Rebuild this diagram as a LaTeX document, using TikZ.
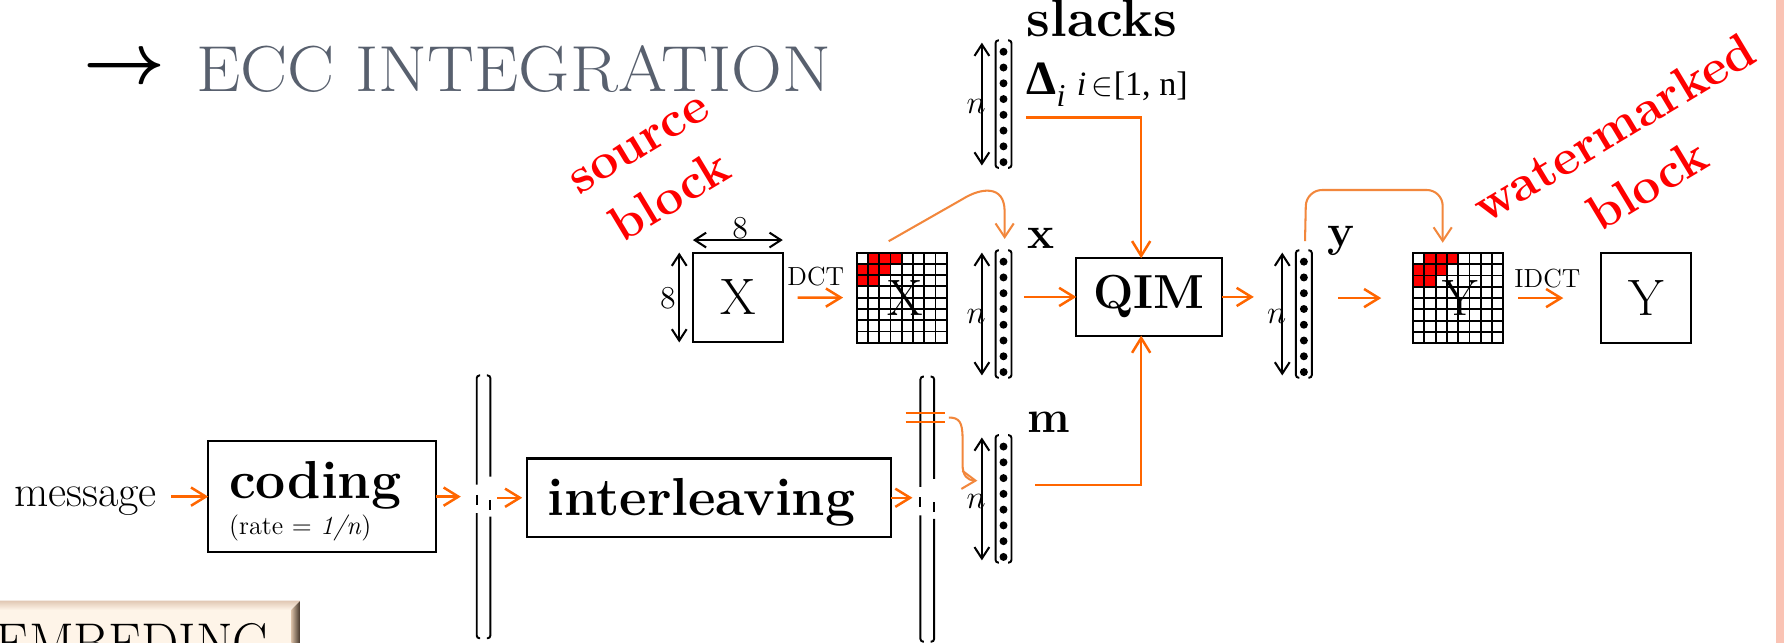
\documentclass[tikz,border=0pt]{standalone}
\usepackage{amsmath,amssymb}
\usepackage{fontspec}
\newfontfamily\tnrfont{Liberation Serif}
\usetikzlibrary{arrows.meta,calc}
\definecolor{oarr}{RGB}{255,102,0}
\definecolor{ocurve}{RGB}{242,135,60}
\definecolor{titlegray}{RGB}{88,96,110}
\definecolor{pinkstrip}{RGB}{250,195,180}
\definecolor{btncream}{RGB}{254,244,232}
\tikzset{
  oarrow/.style={draw=oarr, line width=1.1pt, -{Straight Barb[length=6.5pt,width=8pt]}},
  ocurve/.style={draw=ocurve, line width=0.9pt, -{Straight Barb[length=6pt,width=8pt]}},
  oline/.style={draw=oarr, line width=1.1pt},
  dimarrow/.style={draw, line width=0.9pt, {Straight Barb[length=5pt,width=6.5pt]}-{Straight Barb[length=5pt,width=6.5pt]}},
  box/.style={draw, line width=0.9pt, inner sep=0pt, outer sep=0pt},
  vecn/.style={inner sep=0pt, outer sep=0pt, minimum width=7pt, minimum height=56pt},
  tallb/.style={inner sep=0pt, outer sep=0pt, minimum width=6pt},
  bl/.style={font=\fontsize{20}{24}\selectfont\bfseries, inner sep=0pt},
  bigl/.style={font=\fontsize{23.5}{28}\selectfont\bfseries, inner sep=0pt},
  letter/.style={font=\fontsize{22.5}{26}\selectfont, inner sep=0pt},
  small/.style={font=\fontsize{11.5}{14}\selectfont, inner sep=0pt},
  redlab/.style={text=red, font=\fontsize{22}{25}\selectfont\bfseries, align=center, inner sep=0pt},
}
\newcommand{\vecbrk}[1]{%
  \draw[line width=0.85pt, rounded corners=1.2pt] ($(#1.north west)+(3,0)$) -- (#1.north west) -- (#1.south west) -- ($(#1.south west)+(3,0)$);
  \draw[line width=0.85pt, rounded corners=1.2pt] ($(#1.north east)+(-3,0)$) -- (#1.north east) -- (#1.south east) -- ($(#1.south east)+(-3,0)$);
  \foreach \k in {0,...,7} \fill ($(#1.north)+(0,10+\k*13.86)$) circle (1.75pt);
  \draw[dimarrow] ($(#1.north west)+(-12,2)$) -- ($(#1.south west)+(-12,-2)$);
  \node[font=\fontsize{15}{15}\selectfont, inner sep=0pt] at ($(#1.west)+(-17,2)$) {$n$};
}
\newcommand{\tallbrk}[1]{%
  \draw[line width=0.85pt, rounded corners=1.2pt] ($(#1.north west)+(3,0)$) -- (#1.north west) -- ($(#1.west)+(0,-19.5)$);
  \draw[line width=0.85pt] ($(#1.west)+(0,-10.5)$) -- ($(#1.west)+(0,-1.5)$);
  \draw[line width=0.85pt, rounded corners=1.2pt] ($(#1.west)+(0,5.5)$) -- (#1.south west) -- ($(#1.south west)+(3,0)$);
  \draw[line width=0.85pt, rounded corners=1.2pt] ($(#1.north east)+(-3,0)$) -- (#1.north east) -- ($(#1.east)+(0,-26.5)$);
  \draw[line width=0.85pt] ($(#1.east)+(0,-6)$) -- ($(#1.east)+(0,2.5)$);
  \draw[line width=0.85pt, rounded corners=1.2pt] ($(#1.east)+(0,8.5)$) -- (#1.south east) -- ($(#1.south east)+(-3,0)$);
}
\newcommand{\dctgrid}[1]{%
  \foreach \c/\r in {1/0,2/0,3/0,0/1,1/1,2/1,0/2,1/2}
    \fill[red] ($(#1.north west)+(\c*9.9,\r*9.9)$) rectangle ++(9.9,9.9);
  \foreach \i in {1,...,7} {
    \draw[line width=0.8pt] ($(#1.north west)+(\i*9.9,0)$) -- ++(0,79.2);
    \draw[line width=0.8pt] ($(#1.north west)+(0,\i*9.9)$) -- ++(79.2,0);
  }
  \draw[line width=0.9pt] (#1.north west) rectangle (#1.south east);
}
\begin{document}
\begin{tikzpicture}[x=0.5pt,y=-0.5pt]
\useasboundingbox (0,0) rectangle (1568,565);
\fill[white] (0,0) rectangle (1568,565);
\fill[pinkstrip] (1561,0) rectangle (1568,565);

% title
\node[anchor=west, inner sep=0pt] (tarrow) at (73,61) {\resizebox{36pt}{!}{\resizebox{!}{9pt}{$\boldsymbol{\rightarrow}$}}};
\node[anchor=base west, inner sep=0pt, text=titlegray] (title) at (172,80) {\fontsize{30}{36}\selectfont\resizebox{279pt}{20.2pt}{ECC INTEGRATION}};

% red labels
\node[redlab, rotate=31] (srcl) at (577,152) {source\\[3pt]block};
\node[redlab, rotate=31] (wml) at (1433,137) {watermarked\\[4pt]block};

% top row
\node[box, minimum width=39.5pt, minimum height=39.5pt] (Xbox) at (648.5,261.5) {};
\node[letter] at (Xbox.center) {X};
\draw[dimarrow] ($(Xbox.north west)+(0,-11)$) -- ($(Xbox.north east)+(0,-11)$);
\node[font=\fontsize{14}{16}\selectfont, inner sep=0pt] at ($(Xbox.north)+(2,-21)$) {8};
\draw[dimarrow] ($(Xbox.north west)+(-12,0)$) -- ($(Xbox.south west)+(-12,0)$);
\node[font=\fontsize{14}{16}\selectfont, inner sep=0pt] at ($(Xbox.west)+(-22,1)$) {8};

\node[inner sep=0pt, outer sep=0pt, minimum width=39.6pt, minimum height=39.6pt] (Xg) at (792.6,261.6) {};
\dctgrid{Xg}
\node[letter] at ($(Xg.center)+(3,0)$) {X};
\draw[oarrow, shorten <=6.5pt, shorten >=6pt] (Xbox.east) -- (Xg.west);
\node[small] (dct) at (717,243) {DCT};

\node[vecn] (xv) at (882,276) {};
\vecbrk{xv}
\node[bl] (xlab) at (915,209.5) {x};

\node[vecn] (slv) at (882,91.5) {};
\vecbrk{slv}
\node[bigl, anchor=base west] (slk) at (902,32) {slacks};
\node[anchor=base west, inner sep=0pt] (delta) at (902,83) {\tnrfont\fontsize{21}{23}\selectfont\bfseries Δ\raisebox{-5.5pt}{\fontsize{14}{16}\selectfont\mdseries\itshape i}};
\node[anchor=base west, inner sep=0pt] (range) at (946,84) {\tnrfont\fontsize{15}{18}\selectfont\textit{i}\,$\in$[1, n]};

\node[box, minimum width=64pt, minimum height=34pt] (QIM) at (1010,261) {};
\node[font=\fontsize{21}{24}\selectfont\bfseries, inner sep=0pt] at (QIM.center) {QIM};
\draw[oarrow, shorten <=5.5pt] (xv.east |- QIM.west) -- (QIM.west);

\node[vecn] (yv) at (1146,276) {};
\vecbrk{yv}
\node[bl] (ylab) at (1179,212) {y};
\draw[oarrow, shorten >=18.5pt] (QIM.east) -- (QIM.east -| yv.west);

\node[inner sep=0pt, outer sep=0pt, minimum width=39.6pt, minimum height=39.6pt] (Yg) at (1281.6,262) {};
\dctgrid{Yg}
\node[letter] at ($(Yg.center)+(1.5,0)$) {Y};
\draw[oarrow, shorten <=11.5pt, shorten >=14pt] (yv.east |- Yg.west) -- (Yg.west);

\node[box, minimum width=39.5pt, minimum height=39.5pt] (Ybox) at (1446.5,262) {};
\node[letter] at (Ybox.center) {Y};
\draw[oarrow, shorten <=6.5pt, shorten >=16.5pt] (Yg.east) -- (Ybox.west);
\node[small] (idct) at (1360,245) {IDCT};

% curves
\draw[ocurve] ($(Xg.north)+(-11.5,-10)$) -- (846,175) .. controls (862,165) and (883,162) .. (883,186) -- ($(xv.north)+(1,-10)$);
\draw[ocurve, rounded corners=7pt] ($(yv.north)+(1,-8)$) -- (1148,167) -- (1268,167) -- ($(Yg.north)+(-13.6,-9)$);

% bottom row
\node[anchor=base west, inner sep=0pt, font=\fontsize{19.5}{23}\selectfont] (msg) at (12,445.5) {message};
\node[box, minimum width=100pt, minimum height=48.5pt] (coding) at (283,436.5) {};
\node[bigl, anchor=base west] at (201,438) {coding};
\node[small, anchor=base west] at (201,470) {(rate = \textit{1/n})};
\draw[oarrow, shorten <=6pt] (msg.east |- coding.west) -- (coding.west);

\node[tallb, minimum height=115.5pt] (b1) at (425,445.5) {};
\tallbrk{b1}
\draw[oarrow, shorten >=7pt] (coding.east) -- (coding.east -| b1.west);

\node[box, minimum width=160pt, minimum height=34.5pt] (inter) at (623,437.5) {};
\node[bigl, anchor=base west] at (481,453.5) {interleaving};
\draw[oarrow, shorten <=3pt, shorten >=2pt] (b1.east |- inter.west) -- (inter.west);

\node[tallb, minimum height=116.5pt] (b2) at (815,447.5) {};
\tallbrk{b2}
\draw[oarrow, shorten >=3.5pt] (inter.east) -- (inter.east -| b2.west);

\node[vecn] (mv) at (882,438.5) {};
\vecbrk{mv}
\node[bl] (mlab) at (922,371) {m};

\draw[oline] ($(b2.north)+(-19,32)$) -- ++(35,0);
\draw[oline] ($(b2.north)+(-19,40)$) -- ++(35,0);
\draw[ocurve] ($(b2.north)+(19,36)$) .. controls (843,367) and (846,371) .. (846,385) -- (846,408) .. controls (846,418) and (850,422) .. ($(mv.west)+(-16,-16)$);

% QIM inputs
\draw[oarrow] ($(slv.east)+(13,12)$) -| ($(QIM.north west)+(57,0)$);
\draw[oarrow] ($(mv.east)+(21,-12)$) -| ($(QIM.south west)+(57,0)$);

% EMBEDING button
\fill[btncream] (-5,528) rectangle (264,570);
\shade[top color={rgb,255:red,225;green,200;blue,180}, bottom color=btncream] (-5,528) -- (264,528) -- (256,536) -- (-5,536) -- cycle;
\shade[left color={rgb,255:red,215;green,190;blue,165}, right color={rgb,255:red,60;green,45;blue,35}] (256,536) -- (264,528) -- (264,570) -- (256,570) -- cycle;
\node[anchor=base west, inner sep=0pt] (emb) at (-4,582) {\fontsize{25}{30}\selectfont\resizebox{121pt}{17.2pt}{EMBEDING}};
\end{tikzpicture}
\end{document}
